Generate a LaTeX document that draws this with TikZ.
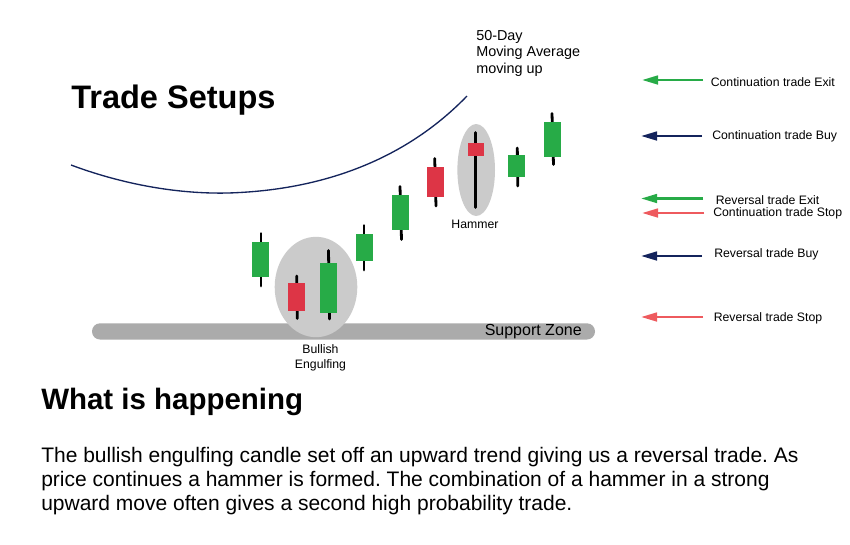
\documentclass[tikz,border=0pt]{standalone}
\usepackage{fontspec}
\setmainfont{Liberation Sans}
\usetikzlibrary{arrows.meta}
\frenchspacing
\definecolor{upgreen}{HTML}{27AB47}
\definecolor{downred}{HTML}{DD3546}
\definecolor{navyline}{HTML}{14245C}
\definecolor{stopred}{HTML}{EE5A5E}
\definecolor{zonegrey}{HTML}{ABABAB}
\definecolor{ovalgrey}{HTML}{CBCBCB}
\tikzset{
  up/.style={rectangle,fill=upgreen,inner sep=0pt,minimum width=16.6*.75pt},
  down/.style={rectangle,fill=downred,inner sep=0pt,minimum width=16.6*.75pt},
  wick/.style={draw=black,line width=2.1pt,line cap=round},
  marker/.style={-{Triangle[length=12pt,width=6.5pt]},line width=1.9pt},
  small/.style={font=\fontsize{9.2}{11.5}\selectfont,inner sep=0pt,align=center},
}
\begin{document}
\begin{tikzpicture}[x=.75pt,y=-.75pt]
   \useasboundingbox[fill=white] (0,0) rectangle (850,544);
   % support zone and the two ovals
   \fill[zonegrey,rounded corners=6pt] (92,323.3) rectangle (595,339.5);
   \fill[ovalgrey] (316,287) ellipse [x radius=41.3,y radius=50.2];
   \fill[ovalgrey] (476.2,170) ellipse [x radius=18.8,y radius=46];
   \node[small,anchor=east,font=\fontsize{12}{14}\selectfont] (zone) at (582,331.5) {Support Zone};
   % moving average
   \draw[navyline,line width=1pt] (71,165) .. controls (130,187) and (185,194) .. (228,193)
      .. controls (330,190) and (410,155) .. (467,96);
   % wicks
   \draw[wick] (261,233.5) -- (261,286);
   \draw[wick] (296.7,276) -- (297.3,318.5);
   \draw[wick] (328.5,250.5) -- (329.5,319);
   \draw[wick] (364,225.5) -- (364,270);
   \draw[wick] (400,186.5) -- (401.5,239.5);
   \draw[wick] (434.7,158.5) -- (436,206);
   \draw[wick] (475.5,132.5) -- (475.5,207.5);
   \draw[wick] (517.3,148) -- (517.8,186);
   \draw[wick] (552,113.5) -- (553.5,164.5);
   % candle bodies
   \node[up,minimum height=34.7*.75pt] (c_1) at (260.5,259.3) {};
   \node[down,minimum height=28.3*.75pt] (c_2) at (296.7,297.2) {};
   \node[up,minimum height=49.7*.75pt] (c_3) at (328.7,287.9) {};
   \node[up,minimum height=27.3*.75pt] (c_4) at (364.7,247.7) {};
   \node[up,minimum height=34.7*.75pt] (c_5) at (400.7,212.3) {};
   \node[down,minimum height=29.7*.75pt] (c_6) at (435.3,181.8) {};
   \node[down,minimum height=13.3*.75pt] (c_7) at (475.8,149.7) {};
   \node[up,minimum height=21.7*.75pt] (c_8) at (516.7,165.8) {};
   \node[up,minimum height=34.7*.75pt] (c_9) at (552.7,139.3) {};
   % labels on the chart
   \node[small] (engulfing) at (320.5,357.5) {Bullish\\Engulfing};
   \node[small] (hammer) at (475,224.5) {Hammer};
   \node[small,anchor=north west,align=left,font=\fontsize{10.8}{12.4}\selectfont] (ma) at (476,30) {50-Day\\Moving Average\\moving up};
   % headings
   \node[anchor=west,inner sep=0pt,font=\bfseries\fontsize{24.4}{30}\selectfont] (title) at (71,100.5) {Trade Setups};
   \node[anchor=west,inner sep=0pt,font=\bfseries\fontsize{22.1}{27}\selectfont] (what) at (41,401.5) {What is happening};
   \node[anchor=north west,inner sep=0pt,align=left,font=\fontsize{15.75}{18}\selectfont] (story) at (41,447)
     {The bullish engulfing candle set off an upward trend giving us a reversal trade. As\\
      price continues a hammer is formed. The combination of a hammer in a strong\\
      upward move often gives a second high probability trade.};
   % price level markers
   \coordinate (a_1) at (703,80);
   \coordinate (b_1) at (642,80);
   \coordinate (a_2) at (702,136);
   \coordinate (b_2) at (641,136);
   \coordinate (a_3) at (703,198.5);
   \coordinate (b_3) at (641,198.5);
   \coordinate (a_4) at (704,213);
   \coordinate (b_4) at (642,213);
   \coordinate (a_5) at (702,256);
   \coordinate (b_5) at (641,256);
   \coordinate (a_6) at (703,317);
   \coordinate (b_6) at (641,317);
   \path[marker]
    (a_1) edge[upgreen] (b_1)
    (a_2) edge[navyline] (b_2)
    (a_3) edge[upgreen] (b_3)
    (a_4) edge[stopred] (b_4)
    (a_5) edge[navyline] (b_5)
    (a_6) edge[stopred] (b_6);
   \node[small,anchor=west] (l_1) at (710.5,82) {Continuation trade Exit};
   \node[small,anchor=west] (l_2) at (712,136) {Continuation trade Buy};
   \node[small,anchor=west] (l_3) at (715.5,200) {Reversal trade Exit};
   \node[small,anchor=west] (l_4) at (713,213) {Continuation trade Stop};
   \node[small,anchor=west] (l_5) at (714,254) {Reversal trade Buy};
   \node[small,anchor=west] (l_6) at (713.5,318) {Reversal trade Stop};
\end{tikzpicture}
\end{document}
